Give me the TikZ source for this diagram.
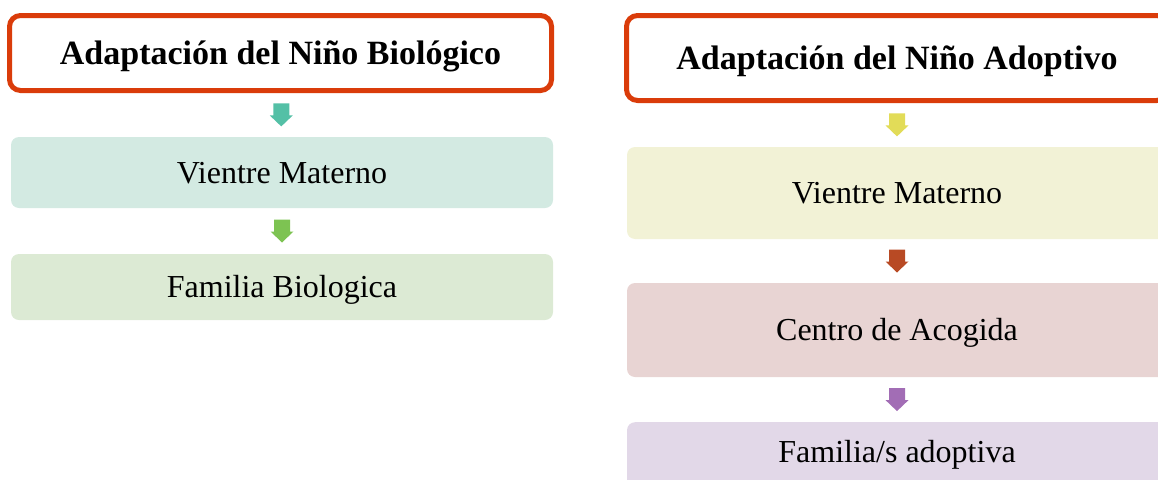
\documentclass[tikz,border=0pt]{standalone}
\usepackage{fontspec}
\setmainfont{Liberation Serif}
\usetikzlibrary{calc}
\definecolor{titlered}{RGB}{218,60,10}
\definecolor{arrteal}{RGB}{84,192,166}
\definecolor{filteal}{RGB}{211,234,226}
\definecolor{arrgreen}{RGB}{125,195,82}
\definecolor{filgreen}{RGB}{220,234,212}
\definecolor{arryellow}{RGB}{226,220,88}
\definecolor{filyellow}{RGB}{242,242,214}
\definecolor{arrrust}{RGB}{184,74,36}
\definecolor{filrose}{RGB}{232,212,211}
\definecolor{arrpurple}{RGB}{162,109,181}
\definecolor{filpurple}{RGB}{226,216,232}
\tikzset{
  titlebox/.style={draw=titlered, line width=5pt, rounded corners=11pt, fill=white,
    font=\fontsize{34}{40}\selectfont\bfseries, text height=22.5pt, text depth=0pt, inner sep=0pt},
  stagebox/.style={draw=none, rounded corners=8pt,
    font=\fontsize{32}{38}\selectfont, text height=21pt, text depth=0pt, inner sep=0pt},
}
\newcommand\blockarrow[3]{%
  \coordinate (m) at ($(#1.south)!0.5!(#2.north)$);
  \fill[#3] ($(m)+(-8,-11.5)$) -- ($(m)+(8,-11.5)$) -- ($(m)+(8,0.5)$) -- ($(m)+(11.5,0.5)$)
    -- ($(m)+(0,11.5)$) -- ($(m)+(-11.5,0.5)$) -- ($(m)+(-8,0.5)$) -- cycle;
}
\begin{document}
\begin{tikzpicture}[x=1pt,y=-1pt]
\useasboundingbox (0,0) rectangle (1158,479);
\clip (0,0) rectangle (1158,479);
% left column
\node[titlebox, minimum width=542pt, minimum height=75pt] (t1) at (280.5,53) {Adaptación del Niño Biológico};
\node[stagebox, fill=filteal, minimum width=542pt, minimum height=71pt] (v1) at (282,172.5) {Vientre Materno};
\node[stagebox, fill=filgreen, minimum width=542pt, minimum height=66pt] (f1) at (282,287) {Familia Biologica};
% right column
\node[titlebox, minimum width=541pt, minimum height=85pt] (t2) at (897,58) {Adaptación del Niño Adoptivo};
\node[stagebox, fill=filyellow, minimum width=540pt, minimum height=92pt] (v2) at (897,193) {Vientre Materno};
\node[stagebox, fill=filrose, minimum width=540pt, minimum height=94pt] (c2) at (897,330) {Centro de Acogida};
\node[stagebox, fill=filpurple, minimum width=540pt, anchor=north, text height=40.5pt, text depth=50pt] (a2) at (897,422) {Familia/s adoptiva};
% arrows
\blockarrow{t1}{v1}{arrteal}
\blockarrow{v1}{f1}{arrgreen}
\blockarrow{t2}{v2}{arryellow}
\blockarrow{v2}{c2}{arrrust}
\blockarrow{c2}{a2}{arrpurple}
\end{tikzpicture}
\end{document}
